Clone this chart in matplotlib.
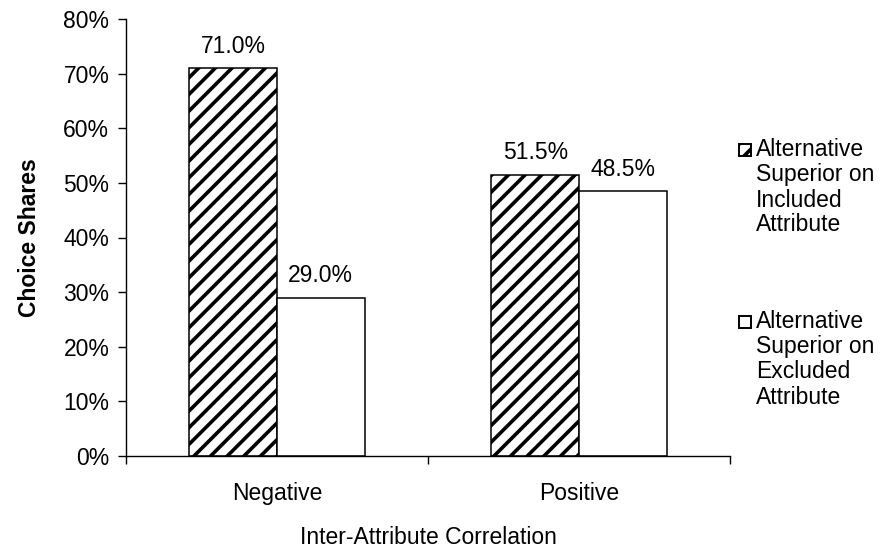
import numpy as np
import matplotlib
matplotlib.use("Agg")
import matplotlib.pyplot as plt
from matplotlib.patches import Rectangle
from matplotlib.ticker import PercentFormatter

plt.rcParams['font.family'] = ['Liberation Sans', 'DejaVu Sans']
plt.rcParams['hatch.linewidth'] = 2.6

# data
categories = ['Negative', 'Positive']
included = [71.0, 51.5]
excluded = [29.0, 48.5]
series_labels = ['Alternative\nSuperior on\nIncluded\nAttribute',
                 'Alternative\nSuperior on\nExcluded\nAttribute']

FS = 16.5
W, H = 886, 552
fig = plt.figure(figsize=(W / 100, H / 100), dpi=100)
ax = fig.add_axes([126 / W, 1 - 456 / H, (730 - 126) / W, (456 - 19) / H])

x = np.arange(len(categories))
bw = 0.29
b1 = ax.bar(x - bw / 2, included, bw, facecolor='white', edgecolor='black',
            hatch='//', linewidth=1.1)
b2 = ax.bar(x + bw / 2, excluded, bw, facecolor='white', edgecolor='black',
            linewidth=1.1)

for bars, vals in [(b1, included), (b2, excluded)]:
    for r, v in zip(bars, vals):
        ax.annotate(f'{v:.1f}%', (r.get_x() + r.get_width() / 2, v),
                    xytext=(0, 11), textcoords='offset points',
                    ha='center', va='baseline', fontsize=FS)

ax.set_xlim(-0.5, 1.5)
ax.set_ylim(0, 80)
ax.set_yticks(np.arange(0, 81, 10))
ax.yaxis.set_major_formatter(PercentFormatter(decimals=0))
ax.set_xticks(x)
ax.set_xticklabels(categories)
ax.set_xticks([-0.5, 0.5, 1.5], minor=True)
ax.tick_params(axis='x', which='major', length=0, pad=19, labelsize=FS)
ax.tick_params(axis='x', which='minor', length=6, width=1, direction='out')
ax.tick_params(axis='y', length=6, width=1, direction='out', pad=6, labelsize=FS)

for s in ['top', 'right']:
    ax.spines[s].set_visible(False)
for s in ['left', 'bottom']:
    ax.spines[s].set_linewidth(1)

ax.set_ylabel('Choice Shares', fontsize=FS, fontweight='bold', labelpad=16)
ax.set_xlabel('Inter-Attribute Correlation', fontsize=FS, labelpad=15)

# legend drawn by hand to keep the box on the first line
for top, lab, hatch in [(150, series_labels[0], '//'), (322, series_labels[1], None)]:
    fig.patches.append(Rectangle((739 / W, 1 - (top + 6) / H), 12 / W, 12 / H,
                                 transform=fig.transFigure, facecolor='white',
                                 edgecolor='black', linewidth=1.4, hatch=hatch))
    for i, line in enumerate(lab.split('\n')):
        fig.text(756 / W, 1 - (top + 25 * i) / H, line, fontsize=FS,
                 ha='left', va='center')

fig.savefig('out.png', dpi=100)
